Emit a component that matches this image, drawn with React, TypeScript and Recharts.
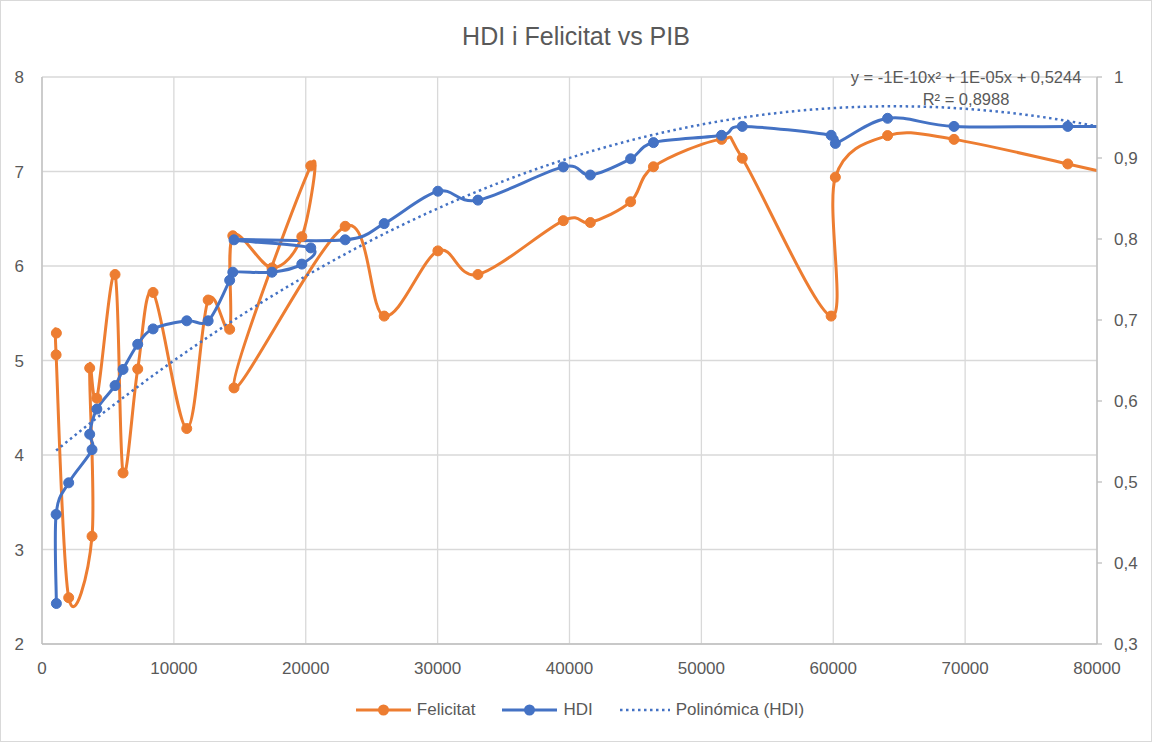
import React from 'react'
import { ComposedChart, Line, XAxis, YAxis, CartesianGrid, Legend } from 'recharts'

// PIB per capita, same order for both series (the order is what makes the loops)
const pib = [
  1090, 1070, 2024, 3794, 3617, 4160, 5539, 6146, 7259, 8422,
  10976, 12600, 14230, 14469, 17440, 19702, 20380, 14560, 22990, 25948,
  30020, 33055, 39530, 41580, 44636, 46366, 51530, 53100, 59840, 60160,
  64120, 69157, 77784, 85000,
]
const felicitat = [
  5.29, 5.06, 2.49, 3.14, 4.92, 4.6, 5.91, 3.81, 4.91, 5.72,
  4.28, 5.64, 5.33, 6.32, 5.98, 6.31, 7.06, 4.71, 6.42, 5.47,
  6.16, 5.91, 6.48, 6.46, 6.68, 7.05, 7.34, 7.14, 5.47, 6.94,
  7.38, 7.34, 7.08, 6.85,
]
const hdi = [
  0.35, 0.46, 0.499, 0.54, 0.559, 0.59, 0.619, 0.639, 0.67, 0.689,
  0.699, 0.699, 0.749, 0.759, 0.759, 0.769, 0.789, 0.799, 0.799, 0.819,
  0.859, 0.848, 0.889, 0.879, 0.899, 0.919, 0.928, 0.939, 0.928, 0.918,
  0.949, 0.939, 0.939, 0.939,
]

// polynomial trendline of HDI, coefficients
const trendA = -1.0519e-10
const trendB = 1.3598e-5
const trendC = 0.5244

const xTicks = [0, 10000, 20000, 30000, 40000, 50000, 60000, 70000, 80000]
const leftTicks = [2, 3, 4, 5, 6, 7, 8]
const rightTicks = [0.3, 0.4, 0.5, 0.6, 0.7, 0.8, 0.9, 1]

const equationText = 'y = -1E-10x² + 1E-05x + 0,5244'
const r2Text = 'R² = 0,8988'

const ORANGE = '#ED7D31'
const BLUE = '#4472C4'
const TEXT = '#595959'
const GRID = '#d9d9d9'
const AXIS = '#bfbfbf'
const FONT = '"Liberation Sans", Arial, sans-serif'

const felicitatData = pib.map((x, i) => ({ x, y: felicitat[i] }))
const hdiData = pib.map((x, i) => ({ x, y: hdi[i] }))

const xMin = Math.min(...pib)
const xMax = Math.max(...pib)
const trendData = Array.from({ length: 121 }, (_, i) => {
  const x = xMin + ((xMax - xMin) * i) / 120
  return { x, y: trendA * x * x + trendB * x + trendC }
})

// Excel "smoothed line": Catmull-Rom through the points in data order
const excelSmooth = (context: any) => {
  let pts: number[][] = []
  return {
    areaStart() {},
    areaEnd() {},
    lineStart() {
      pts = []
    },
    lineEnd() {
      const n = pts.length
      if (!n) return
      context.moveTo(pts[0][0], pts[0][1])
      for (let i = 0; i < n - 1; i++) {
        const p0 = pts[Math.max(i - 1, 0)]
        const p1 = pts[i]
        const p2 = pts[i + 1]
        const p3 = pts[Math.min(i + 2, n - 1)]
        context.bezierCurveTo(
          p1[0] + (p2[0] - p0[0]) / 6,
          p1[1] + (p2[1] - p0[1]) / 6,
          p2[0] - (p3[0] - p1[0]) / 6,
          p2[1] - (p3[1] - p1[1]) / 6,
          p2[0],
          p2[1]
        )
      }
    },
    point(x: number, y: number) {
      pts.push([+x, +y])
    },
  }
}

const legendItems = [
  { label: 'Felicitat', color: ORANGE, dotted: false },
  { label: 'HDI', color: BLUE, dotted: false },
  { label: 'Polinómica (HDI)', color: BLUE, dotted: true },
]

const renderLegend = () => (
  <div
    style={{
      display: 'flex',
      justifyContent: 'center',
      alignItems: 'center',
      height: 28,
      fontFamily: FONT,
      fontSize: 17,
      color: TEXT,
      paddingLeft: 8,
    }}
  >
    {legendItems.map((it, i) => {
      const w = it.dotted ? 50 : 55
      return (
        <div key={it.label} style={{ display: 'flex', alignItems: 'center', marginLeft: i ? 27 : 0 }}>
          <svg width={w} height={14}>
            <line
              x1={0}
              y1={7}
              x2={w}
              y2={7}
              stroke={it.color}
              strokeWidth={it.dotted ? 2.5 : 3}
              strokeDasharray={it.dotted ? '2.5 3.5' : undefined}
            />
            {!it.dotted && <circle cx={w / 2} cy={7} r={5.5} fill={it.color} />}
          </svg>
          <span style={{ marginLeft: 6 }}>{it.label}</span>
        </div>
      )
    })}
  </div>
)

const tickStyle = { fill: TEXT, fontSize: 17, fontFamily: FONT }

export default function App() {
  return (
    <div style={{ position: 'absolute', left: 0, top: 0, width: 1152, height: 742, background: '#fff' }}>
      <ComposedChart width={1152} height={742} margin={{ top: 77, right: 0, bottom: 18, left: 0 }}>
        <CartesianGrid yAxisId="left" stroke={GRID} strokeWidth={1.3} />
        <XAxis
          type="number"
          dataKey="x"
          domain={[0, 80000]}
          ticks={xTicks}
          allowDataOverflow
          height={52}
          tickLine={false}
          tickMargin={12}
          axisLine={{ stroke: AXIS, strokeWidth: 1.3 }}
          tick={tickStyle}
        />
        <YAxis
          yAxisId="left"
          orientation="left"
          domain={[2, 8]}
          ticks={leftTicks}
          allowDataOverflow
          width={42}
          tickLine={false}
          tickMargin={12}
          axisLine={{ stroke: AXIS, strokeWidth: 1.3 }}
          tick={tickStyle}
        />
        <YAxis
          yAxisId="right"
          orientation="right"
          domain={[0.3, 1]}
          ticks={rightTicks}
          allowDataOverflow
          width={55}
          tickSize={5}
          tickMargin={12}
          tickLine={{ stroke: AXIS, strokeWidth: 1.3 }}
          axisLine={{ stroke: AXIS, strokeWidth: 1.3 }}
          tick={tickStyle}
          tickFormatter={(v: number) => String(Math.round(v * 10) / 10).replace('.', ',')}
        />
        <Legend verticalAlign="bottom" content={renderLegend} />
        <Line
          yAxisId="left"
          data={felicitatData}
          dataKey="y"
          type={excelSmooth as any}
          stroke={ORANGE}
          strokeWidth={3}
          dot={{ r: 5, fill: ORANGE, stroke: ORANGE, strokeWidth: 1 }}
          activeDot={false}
          isAnimationActive={false}
        />
        <Line
          yAxisId="right"
          data={hdiData}
          dataKey="y"
          type={excelSmooth as any}
          stroke={BLUE}
          strokeWidth={3}
          dot={{ r: 5, fill: BLUE, stroke: BLUE, strokeWidth: 1 }}
          activeDot={false}
          isAnimationActive={false}
        />
        <Line
          yAxisId="right"
          data={trendData}
          dataKey="y"
          type="linear"
          stroke={BLUE}
          strokeWidth={2.5}
          strokeDasharray="2.5 3.5"
          dot={false}
          activeDot={false}
          isAnimationActive={false}
        />
      </ComposedChart>
      <div
        style={{
          position: 'absolute',
          left: 0,
          top: 24,
          width: 1152,
          textAlign: 'center',
          fontFamily: FONT,
          fontSize: 25,
          lineHeight: '25px',
          color: TEXT,
        }}
      >
        HDI i Felicitat vs PIB
      </div>
      <div
        style={{
          position: 'absolute',
          left: 966,
          top: 69,
          transform: 'translateX(-50%)',
          whiteSpace: 'nowrap',
          textAlign: 'center',
          fontFamily: FONT,
          fontSize: 16.5,
          lineHeight: '22px',
          color: TEXT,
        }}
      >
        <div style={{ marginTop: -3 }}>{equationText}</div>
        <div>{r2Text}</div>
      </div>
      <div
        style={{
          position: 'absolute',
          left: 0,
          top: 0,
          width: 1150,
          height: 740,
          border: `1px solid ${GRID}`,
          pointerEvents: 'none',
        }}
      />
    </div>
  )
}
